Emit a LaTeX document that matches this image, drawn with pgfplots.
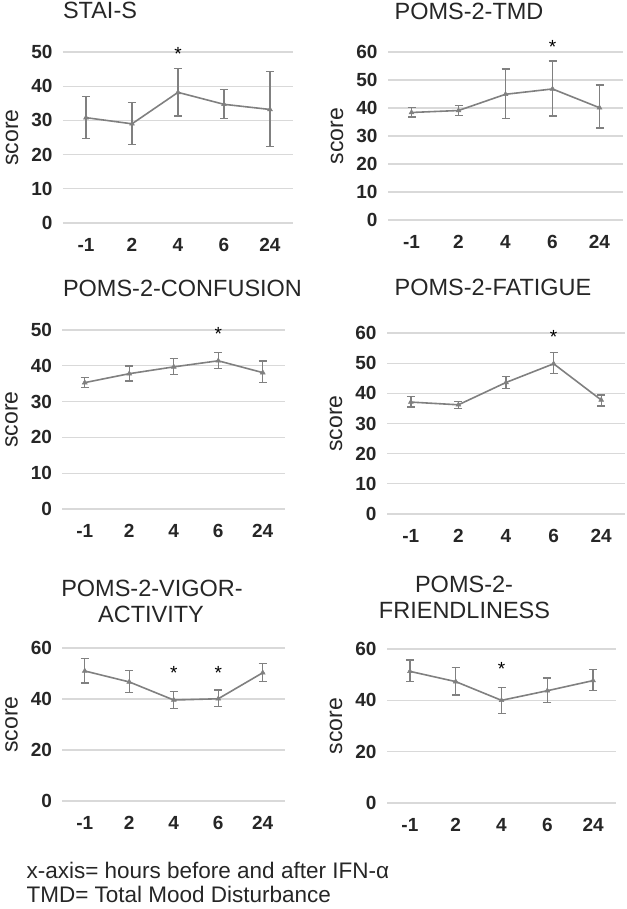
\documentclass[border=0pt]{standalone}
\usepackage{fontspec}
\setmainfont{Liberation Sans}
\usepackage{pgfplots}
\pgfplotsset{compat=1.18}
\usepackage{pgfplotstable}
\definecolor{linec}{RGB}{128,128,128}
\definecolor{gridc}{RGB}{217,217,217}
\definecolor{txtc}{RGB}{38,38,38}

% x y hi lo  (mean, upper and lower end of the error bar)
\pgfplotstableread{
x y hi lo
0 30.8 37.0 24.7
1 29.0 35.2 22.9
2 38.2 45.1 31.3
3 34.7 39.1 30.6
4 33.2 44.3 22.4
}\tabA
\pgfplotstableread{
x y hi lo
0 38.4 40.1 36.8
1 39.1 40.9 37.4
2 44.9 53.9 36.3
3 46.8 56.8 37.1
4 40.1 48.2 32.8
}\tabB
\pgfplotstableread{
x y hi lo
0 35.3 36.8 33.9
1 37.8 40.0 35.8
2 39.7 42.0 37.6
3 41.4 43.7 39.3
4 38.1 41.3 35.3
}\tabC
\pgfplotstableread{
x y hi lo
0 37.1 38.9 35.5
1 36.2 37.2 34.9
2 43.6 45.6 41.7
3 49.8 53.6 46.5
4 37.8 39.4 35.8
}\tabD
\pgfplotstableread{
x y hi lo
0 51.0 55.8 46.3
1 46.7 51.1 42.6
2 39.6 42.9 36.2
3 40.1 43.5 37.0
4 50.3 54.0 46.8
}\tabE
\pgfplotstableread{
x y hi lo
0 51.3 55.7 47.3
1 47.3 52.9 42.1
2 40.0 45.1 34.9
3 43.75 48.7 39.2
4 47.7 52.0 43.8
}\tabF

\pgfplotsset{
  panel/.style={
    scale only axis, anchor=south west, clip=false,
    xmin=-0.5, xmax=4.5, ymin=0,
    xtick={0,1,2,3,4}, xticklabels={-1,2,4,6,24},
    ymajorgrids, grid style={draw=gridc, line width=1.3pt},
    axis line style={draw=none}, major tick length=0pt,
    tick label style={font=\fontsize{19}{19}\selectfont\bfseries, text=txtc},
    /pgf/number format/assume math mode=true,
    xticklabel style={anchor=center, yshift=-22pt},
    yticklabel style={anchor=east, xshift=-7pt},
    ylabel={score},
    every axis y label/.style={at={(axis description cs:0,0.5)}, xshift=-51pt, rotate=90, anchor=center, inner sep=0pt, font=\fontsize{23}{23}\selectfont, text=txtc},
  },
  ser/.style={color=linec, line width=1.6pt, mark=triangle*, mark size=2.8pt,
    mark options={fill=linec, draw=linec, line width=0.5pt},
    error bars/.cd, y dir=both, y explicit,
    error bar style={line width=1.4pt, linec},
    error mark options={rotate=90, mark size=4pt, line width=1.4pt, linec}},
}
\tikzset{sig/.style={font=\fontsize{19}{19}\selectfont, text=black, anchor=base, yshift=-10pt}}
\newcommand{\tfont}{\fontsize{23.5}{23.5}\selectfont}
\newcommand{\drawser}[1]{\addplot[ser] table[x=x, y=y, y error plus expr=\thisrow{hi}-\thisrow{y}, y error minus expr=\thisrow{y}-\thisrow{lo}] {#1};}

\begin{document}
\begin{tikzpicture}
\useasboundingbox (0,0) rectangle (626pt,-909pt);

% titles
\node[anchor=base, font=\tfont, text=txtc] at (100pt,-18.5pt) {STAI-S};
\node[anchor=base, font=\tfont, text=txtc] at (469pt,-20pt) {POMS-2-TMD};
\node[anchor=base, font=\tfont, text=txtc] at (182.5pt,-296.5pt) {POMS-2-CONFUSION};
\node[anchor=base, font=\tfont, text=txtc] at (493pt,-295pt) {POMS-2-FATIGUE};
\node[anchor=base, font=\tfont, text=txtc] at (152pt,-596pt) {POMS-2-VIGOR-};
\node[anchor=base, font=\tfont, text=txtc] at (151pt,-622.5pt) {ACTIVITY};
\node[anchor=base, font=\tfont, text=txtc] at (464pt,-592pt) {POMS-2-};
\node[anchor=base, font=\tfont, text=txtc] at (464.5pt,-618pt) {FRIENDLINESS};

% STAI-S
\begin{axis}[panel, at={(63pt,-223pt)}, width=230pt, height=171pt, ymax=50, ytick={0,10,...,50}]
\drawser{\tabA}
\node[sig] at (axis cs:2,50.5) {*};
\end{axis}

% TMD
\begin{axis}[panel, at={(388pt,-220pt)}, width=235pt, height=168pt, ymax=60, ytick={0,10,...,60}]
\drawser{\tabB}
\node[sig] at (axis cs:3,63) {*};
\end{axis}

% CONFUSION
\begin{axis}[panel, at={(62.5pt,-509pt)}, width=222.5pt, height=179pt, ymax=50, ytick={0,10,...,50}]
\drawser{\tabC}
\node[sig] at (axis cs:3,50) {*};
\end{axis}

% FATIGUE
\begin{axis}[panel, at={(387pt,-514pt)}, width=238pt, height=181pt, ymax=60, ytick={0,10,...,60}]
\drawser{\tabD}
\node[sig] at (axis cs:3,59.8) {*};
\end{axis}

% VIGOR-ACTIVITY
\begin{axis}[panel, at={(62.5pt,-801pt)}, width=222.5pt, height=153pt, ymax=60, ytick={0,20,40,60}]
\drawser{\tabE}
\node[sig] at (axis cs:2,51.5) {*};
\node[sig] at (axis cs:3,51.5) {*};
\end{axis}

% FRIENDLINESS
\begin{axis}[panel, at={(387pt,-803pt)}, width=229pt, height=154pt, ymax=60, ytick={0,20,40,60}]
\drawser{\tabF}
\node[sig] at (axis cs:2,53.4) {*};
\end{axis}

% footer
\node[anchor=base west, font=\fontsize{22.5}{22.5}\selectfont, text=txtc] at (23pt,-878pt) {x-axis= hours before and after IFN-α};
\node[anchor=base west, font=\fontsize{22.5}{22.5}\selectfont, text=txtc] at (23pt,-902pt) {TMD= Total Mood Disturbance};
\end{tikzpicture}
\end{document}
